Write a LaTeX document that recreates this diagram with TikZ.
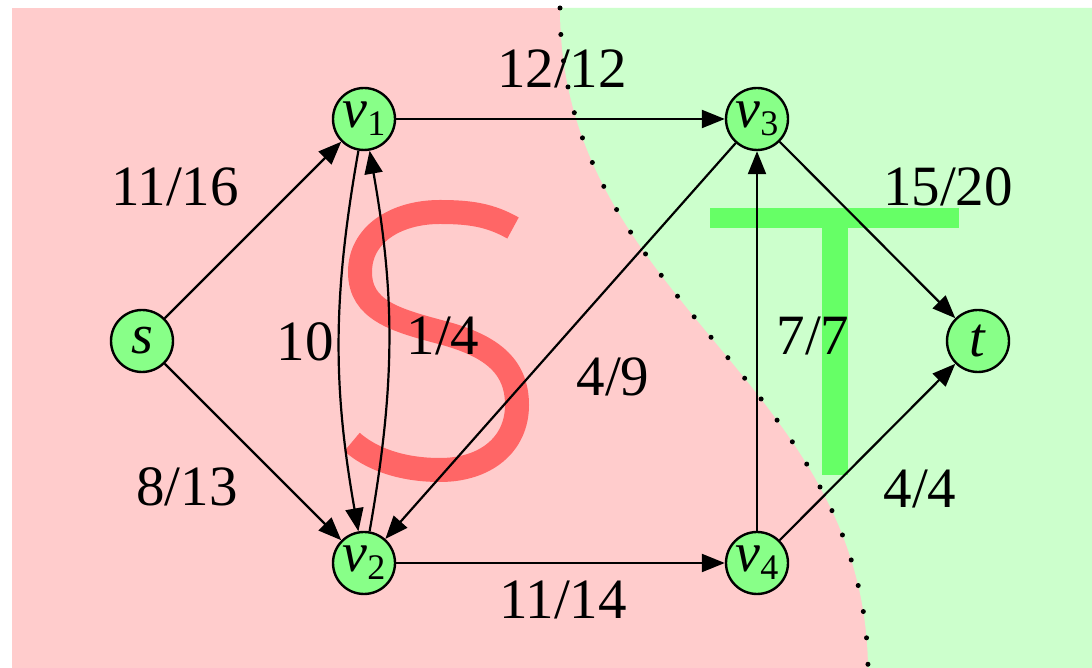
\documentclass[tikz,border=0pt]{standalone}
\usepackage{fontspec}
\setmainfont{LiberationSerif}[Extension=.ttf, UprightFont=*-Regular, ItalicFont=*-Italic, BoldFont=*-Bold, BoldItalicFont=*-BoldItalic]
\usetikzlibrary{arrows.meta}
\definecolor{sideS}{RGB}{255,204,204}
\definecolor{sideT}{RGB}{204,255,204}
\definecolor{nodegreen}{RGB}{136,255,136}
\definecolor{letterS}{RGB}{255,102,102}
\definecolor{letterT}{RGB}{102,255,102}
\newcommand{\vsub}[1]{\textit{v}\raisebox{-8pt}{\fontsize{36}{40}\selectfont #1}}
\tikzset{
  vtx/.style={circle, draw=black, line width=2.4pt, fill=nodegreen, minimum size=62pt, inner sep=0pt, font=\fontsize{56}{60}\selectfont},
  lbl/.style={anchor=base, inner sep=0pt, font=\fontsize{57}{60}\selectfont},
  edge/.style={line width=2.2pt, -{Triangle[length=23pt,width=18pt]}},
  cut/.style={line width=5pt, line cap=round, dash pattern=on 0pt off 26.5pt}
}
\begin{document}
\begin{tikzpicture}[x=1pt,y=1pt]
\useasboundingbox (0,0) rectangle (1092,668);
\fill[white] (0,0) rectangle (1092,668);
% sides of the cut
\fill[sideS] (12,0) rectangle (1092,660);
\fill[sideT] (560,660) .. controls (560,368) and (865,288) .. (868,0) -- (1092,0) -- (1092,660) -- cycle;
% big letters
\draw[letterS, line width=24pt] (513,440) .. controls (490,453) and (470,456) .. (440,456)
  .. controls (395,456) and (360,433) .. (360,396)
  .. controls (360,358) and (395,348) .. (440,336)
  .. controls (490,323) and (517,303) .. (517,263)
  .. controls (517,223) and (485,198) .. (440,198)
  .. controls (400,198) and (370,210) .. (352,226);
\fill[letterT] (710,440) rectangle (959,460);
\fill[letterT] (822,193) rectangle (848,440);
% cut line
\draw[cut] (560,660) .. controls (560,368) and (865,288) .. (868,0);
% nodes
\node[vtx] (s) at (142,327) {\textit{s}};
\node[vtx] (v1) at (364,549) {\vsub{1}};
\node[vtx] (v2) at (364,105) {\vsub{2}};
\node[vtx] (v3) at (757,549) {\vsub{3}};
\node[vtx] (v4) at (757,105) {\vsub{4}};
\node[vtx] (t) at (978,327) {\textit{t}};
% edges
\draw[edge] (s) -- (v1);
\draw[edge] (s) -- (v2);
\draw[edge] (v1) -- (v3);
\draw[edge] (v2) -- (v4);
\draw[edge] (v3) -- (v2);
\draw[edge] (v4) -- (v3);
\draw[edge] (v3) -- (t);
\draw[edge] (v4) -- (t);
\draw[edge] (v1) to[bend right=10] (v2);
\draw[edge] (v2) to[bend right=10] (v1);
% labels
\node[lbl] (l1) at (175,462) {11/16};
\node[lbl] (l2) at (187,162) {8/13};
\node[lbl] (l3) at (562,580) {12/12};
\node[lbl] (l4) at (563,49) {11/14};
\node[lbl] (l5) at (305,307) {10};
\node[lbl] (l6) at (443,313) {1/4};
\node[lbl] (l7) at (613,272) {4/9};
\node[lbl] (l8) at (813,313) {7/7};
\node[lbl] (l9) at (948,462) {15/20};
\node[lbl] (l10) at (920,160) {4/4};
\end{tikzpicture}
\end{document}
